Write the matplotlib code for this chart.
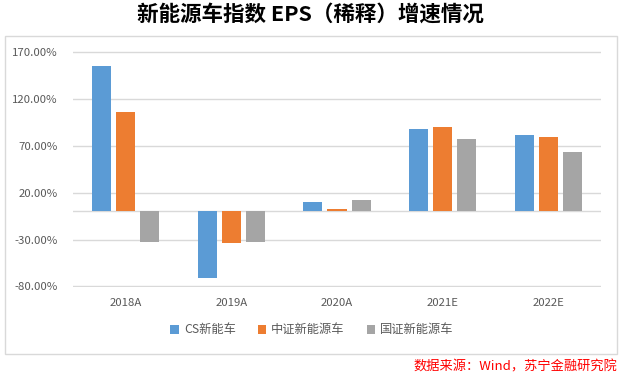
import matplotlib
matplotlib.use("Agg")
import matplotlib.pyplot as plt
import numpy as np
from matplotlib.patches import Rectangle

plt.rcParams['font.family'] = ['Noto Sans CJK SC', 'DejaVu Sans']

categories = ["2018A", "2019A", "2020A", "2021E", "2022E"]
series_names = ["CS新能车", "中证新能源车", "国证新能源车"]
cs_vals = [155.0, -71.0, 10.0, 88.5, 82.0]
zz_vals = [106.0, -33.5, 2.5, 90.5, 79.0]
gz_vals = [-32.5, -33.0, 12.0, 77.0, 63.0]
yticks = [-80, -30, 20, 70, 120, 170]
colors = ["#5B9BD5", "#ED7D31", "#A5A5A5"]

fig = plt.figure(figsize=(6.22, 3.79), dpi=100)
ax = fig.add_axes([73/622, 1-287.3/379, (601-73)/622, (287.3-51.3)/379])

x = np.arange(len(categories))
w = 0.18
pitch = 0.228
for i, (vals, name, c) in enumerate(zip([cs_vals, zz_vals, gz_vals], series_names, colors)):
    ax.bar(x + (i-1)*pitch, vals, width=w, color=c, label=name, zorder=3)

ax.set_xlim(-0.5, len(categories)-0.5)
ax.set_ylim(-81, 171)
ax.set_yticks(yticks)
ax.set_yticklabels([f"{v:.2f}%" for v in yticks])
ax.set_xticks(x)
ax.set_xticklabels(categories)
ax.tick_params(axis='both', length=0, labelsize=8.2, labelcolor="#595959")
ax.tick_params(axis='y', pad=11)
ax.tick_params(axis='x', pad=8)
ax.grid(axis='y', color="#D9D9D9", linewidth=1, zorder=0)
ax.axhline(0, color="#D9D9D9", linewidth=1, zorder=2)
for s in ax.spines.values():
    s.set_visible(False)

# chart border
fig.add_artist(Rectangle((5/622, 1-354/379), (617-5)/622, (354-36)/379,
                         transform=fig.transFigure, fill=False,
                         edgecolor="#D9D9D9", linewidth=1))

leg = fig.legend(loc="center", bbox_to_anchor=(312/622, 1-330/379), ncol=3,
                 frameon=False, fontsize=8.8, handlelength=0.7, handleheight=0.7,
                 columnspacing=1.8, handletextpad=0.4)
for t in leg.get_texts():
    t.set_color("#595959")

fig.text(310/622, 1-14/379, "新能源车指数 EPS（稀释）增速情况", ha="center", va="center",
         fontsize=15.5, fontweight="bold", color="black")
fig.text(617/622, 1-367/379, "数据来源：Wind，苏宁金融研究院", ha="right", va="center",
         fontsize=9.5, color="red", style="italic")

fig.savefig("out.png", dpi=100)
